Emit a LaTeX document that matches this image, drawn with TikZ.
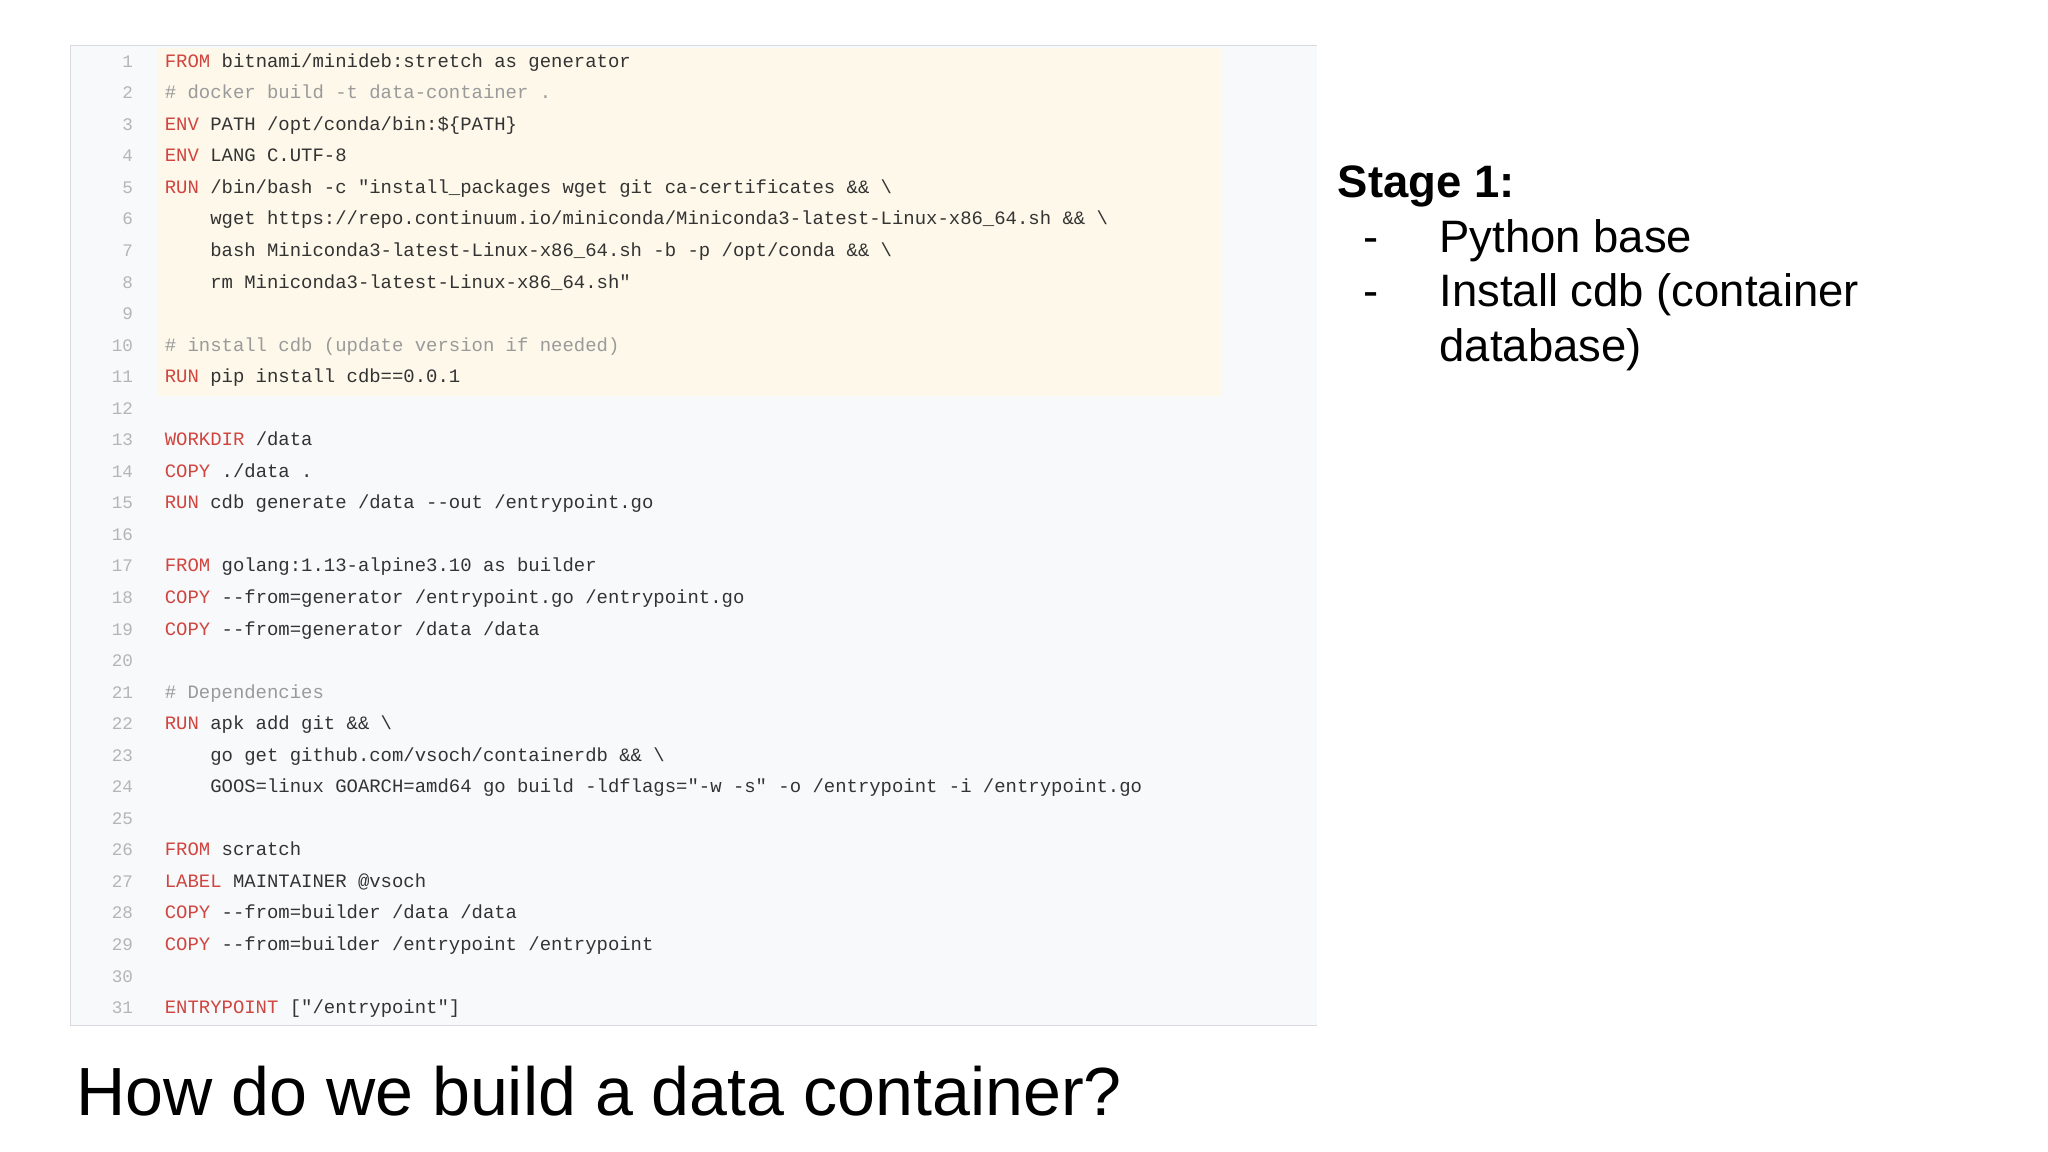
\documentclass[tikz,border=0pt]{standalone}
\usepackage{fontspec}
\setmainfont{Liberation Sans}
\newfontfamily\codef{Liberation Mono}[Scale=1.0]
\definecolor{kw}{HTML}{D0453F}
\definecolor{cm}{HTML}{9A9A9A}
\definecolor{tx}{HTML}{333333}
\definecolor{ln}{HTML}{B5B5B5}
\definecolor{panel}{HTML}{F8F9FB}
\definecolor{hl}{HTML}{FDF8EA}
\definecolor{bd}{HTML}{D8DAE0}
\begin{document}
\begin{tikzpicture}[x=1pt,y=-1pt,
  code/.style={anchor=base west,inner sep=0pt,font=\codef\fontsize{14.5}{16}\selectfont,text=tx},
  num/.style={anchor=base east,inner sep=0pt,font=\codef\fontsize{13.5}{15}\selectfont,text=ln},
  big/.style={anchor=base west,inner sep=0pt,font=\fontsize{34.8}{40}\selectfont,text=black}]
\useasboundingbox (0,0) rectangle (1568,882);
\fill[white] (0,0) rectangle (1568,882);
\fill[panel] (54,35) rectangle (1008,785);
\fill[hl] (120,37) rectangle (935,303);
\draw[bd,line width=1.2] (1008,35) -- (54,35) -- (54,785) -- (1008,785);
\foreach \i in {1,...,31}{
  \node[num] (n\i) at (102,{51.5+(\i-1)*24.15}) {\i};
}
\newcommand{\K}[1]{\textcolor{kw}{#1}}
\newcommand{\C}[1]{\textcolor{cm}{#1}}
\def\Y#1{{51.5+(#1-1)*24.15}}
\node[code] (c1) at (126,\Y{1}) {\K{FROM} bitnami/minideb:stretch as generator};
\node[code] (c2) at (126,\Y{2}) {\C{\# docker build -t data-container .}};
\node[code] (c3) at (126,\Y{3}) {\K{ENV} PATH /opt/conda/bin:\$\{PATH\}};
\node[code] (c4) at (126,\Y{4}) {\K{ENV} LANG C.UTF-8};
\node[code] (c5) at (126,\Y{5}) {\K{RUN} /bin/bash -c "install\_packages wget git ca-certificates \&\& \textbackslash};
\node[code] (c6) at (126,\Y{6}) {\ \ \ \ wget https://repo.continuum.io/miniconda/Miniconda3-latest-Linux-x86\_64.sh \&\& \textbackslash};
\node[code] (c7) at (126,\Y{7}) {\ \ \ \ bash Miniconda3-latest-Linux-x86\_64.sh -b -p /opt/conda \&\& \textbackslash};
\node[code] (c8) at (126,\Y{8}) {\ \ \ \ rm Miniconda3-latest-Linux-x86\_64.sh"};
\node[code] (c10) at (126,\Y{10}) {\C{\# install cdb (update version if needed)}};
\node[code] (c11) at (126,\Y{11}) {\K{RUN} pip install cdb==0.0.1};
\node[code] (c13) at (126,\Y{13}) {\K{WORKDIR} /data};
\node[code] (c14) at (126,\Y{14}) {\K{COPY} ./data .};
\node[code] (c15) at (126,\Y{15}) {\K{RUN} cdb generate /data -{}-out /entrypoint.go};
\node[code] (c17) at (126,\Y{17}) {\K{FROM} golang:1.13-alpine3.10 as builder};
\node[code] (c18) at (126,\Y{18}) {\K{COPY} -{}-from=generator /entrypoint.go /entrypoint.go};
\node[code] (c19) at (126,\Y{19}) {\K{COPY} -{}-from=generator /data /data};
\node[code] (c21) at (126,\Y{21}) {\C{\# Dependencies}};
\node[code] (c22) at (126,\Y{22}) {\K{RUN} apk add git \&\& \textbackslash};
\node[code] (c23) at (126,\Y{23}) {\ \ \ \ go get github.com/vsoch/containerdb \&\& \textbackslash};
\node[code] (c24) at (126,\Y{24}) {\ \ \ \ GOOS=linux GOARCH=amd64 go build -ldflags="-w -s" -o /entrypoint -i /entrypoint.go};
\node[code] (c26) at (126,\Y{26}) {\K{FROM} scratch};
\node[code] (c27) at (126,\Y{27}) {\K{LABEL} MAINTAINER @vsoch};
\node[code] (c28) at (126,\Y{28}) {\K{COPY} -{}-from=builder /data /data};
\node[code] (c29) at (126,\Y{29}) {\K{COPY} -{}-from=builder /entrypoint /entrypoint};
\node[code] (c31) at (126,\Y{31}) {\K{ENTRYPOINT} ["/entrypoint"]};
\node[big,font=\bfseries\fontsize{34.8}{40}\selectfont] (st) at (1024,151) {Stage 1:};
\node[big] (d1) at (1044,193) {-};
\node[big] (b1) at (1102,193) {Python base};
\node[big] (d2) at (1044,235) {-};
\node[big] (b2) at (1102,235) {Install cdb (container};
\node[big] (b3) at (1102,277) {database)};
\node[anchor=base west,inner sep=0pt,font=\fontsize{52.2}{60}\selectfont] (title) at (58,854) {How do we build a data container?};
\end{tikzpicture}
\end{document}
